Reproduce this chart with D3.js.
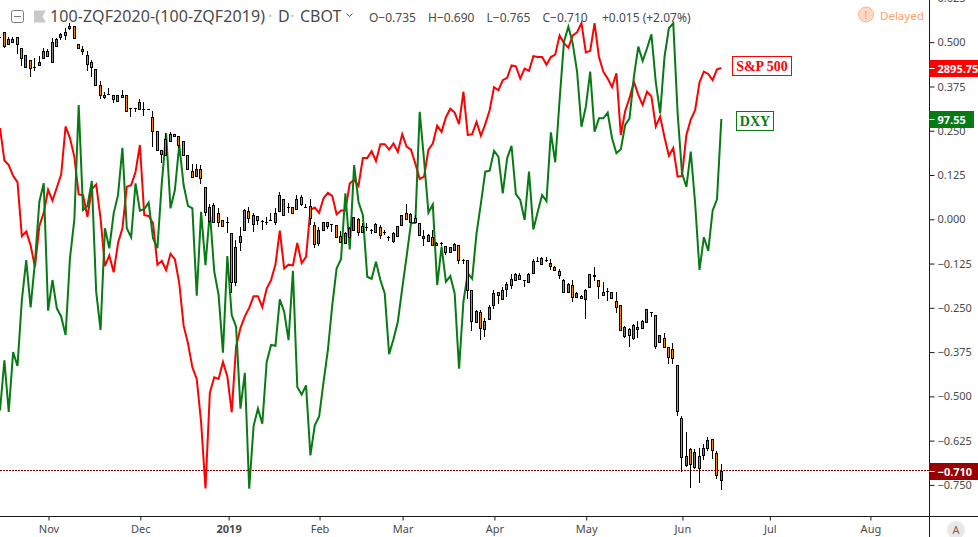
<!DOCTYPE html>
<html>
<head>
<meta charset="utf-8">
<title>100-ZQF2020-(100-ZQF2019)</title>
<script src="https://cdnjs.cloudflare.com/ajax/libs/d3/7.8.5/d3.min.js"></script>
<style>
  html, body { margin: 0; padding: 0; background: #fff; }
  svg { display: block; font-family: "Noto Sans", sans-serif; }
</style>
</head>
<body>
<div id="chart"></div>
<script>
// daily candles, index 0 is the bar at the left edge
var barOpen = [0.514,0.529,0.495,0.500,0.515,0.484,0.430,0.450,0.430,0.436,
  0.455,0.475,0.444,0.489,0.515,0.520,0.540,0.547,0.495,0.481,
  0.464,0.444,0.424,0.379,0.345,0.353,0.351,0.334,0.345,0.351,
  0.313,0.313,0.311,0.311,0.311,0.289,0.249,0.196,0.181,0.221,
  0.241,0.235,0.221,0.181,0.136,0.122,0.142,0.091,-0.006,0.040,
  0.018,-0.002,-0.009,-0.039,-0.177,-0.064,-0.030,0.023,-0.013,0.009,
  -0.005,-0.008,-0.002,-0.008,0.023,0.057,0.035,0.035,0.029,0.063,
  0.036,0.038,-0.016,-0.067,-0.030,-0.008,-0.014,-0.016,-0.047,-0.067,
  -0.050,-0.030,0.001,-0.036,-0.022,-0.029,-0.036,-0.022,-0.036,-0.050,
  -0.061,-0.047,-0.016,0.018,-0.008,0.004,-0.010,-0.053,-0.061,-0.050,
  -0.067,-0.068,-0.075,-0.092,-0.087,-0.073,-0.115,-0.115,-0.200,-0.290,
  -0.262,-0.310,-0.281,-0.242,-0.205,-0.225,-0.197,-0.185,-0.171,-0.157,
  -0.171,-0.177,-0.152,-0.119,-0.126,-0.115,-0.123,-0.135,-0.146,-0.171,
  -0.205,-0.185,-0.219,-0.222,-0.225,-0.191,-0.160,-0.171,-0.205,-0.202,
  -0.205,-0.231,-0.242,-0.329,-0.310,-0.335,-0.310,-0.307,-0.290,-0.263,
  -0.270,-0.346,-0.335,-0.361,-0.366,-0.411,-0.561,-0.694,-0.648,-0.699,
  -0.668,-0.665,-0.646,-0.620,-0.660,-0.735];
var barHigh = [0.514,0.529,0.515,0.515,0.515,0.484,0.464,0.450,0.455,0.461,
  0.484,0.481,0.512,0.512,0.526,0.540,0.554,0.547,0.495,0.489,
  0.475,0.451,0.424,0.391,0.359,0.371,0.351,0.352,0.366,0.351,
  0.313,0.313,0.341,0.331,0.311,0.307,0.249,0.196,0.244,0.246,
  0.241,0.235,0.221,0.181,0.157,0.157,0.153,0.091,0.043,0.046,
  0.033,-0.002,0.006,-0.039,-0.058,-0.022,0.029,0.035,0.018,0.009,
  -0.002,0.006,0.018,0.032,0.077,0.057,0.046,0.035,0.069,0.069,
  0.043,0.057,-0.007,-0.022,-0.008,-0.008,-0.014,-0.016,-0.032,-0.036,
  -0.023,0.006,0.004,-0.010,-0.010,-0.027,-0.010,-0.016,-0.030,-0.047,
  -0.036,-0.019,0.012,0.043,0.018,0.012,-0.010,-0.030,-0.041,-0.030,
  -0.064,-0.064,-0.075,-0.078,-0.067,-0.073,-0.112,-0.115,-0.200,-0.256,
  -0.256,-0.279,-0.242,-0.200,-0.205,-0.191,-0.177,-0.154,-0.152,-0.152,
  -0.171,-0.152,-0.112,-0.106,-0.106,-0.106,-0.112,-0.132,-0.140,-0.169,
  -0.180,-0.171,-0.205,-0.214,-0.197,-0.154,-0.135,-0.171,-0.177,-0.194,
  -0.205,-0.205,-0.242,-0.301,-0.307,-0.296,-0.288,-0.284,-0.253,-0.263,
  -0.270,-0.327,-0.321,-0.361,-0.349,-0.411,-0.555,-0.600,-0.646,-0.648,
  -0.646,-0.634,-0.615,-0.620,-0.654,-0.690];
var barLow = [0.514,0.485,0.491,0.498,0.466,0.432,0.428,0.401,0.419,0.435,
  0.452,0.458,0.444,0.488,0.505,0.505,0.535,0.511,0.484,0.464,
  0.419,0.401,0.375,0.340,0.341,0.350,0.327,0.333,0.342,0.305,
  0.288,0.302,0.309,0.291,0.311,0.204,0.196,0.158,0.180,0.220,
  0.235,0.201,0.181,0.142,0.119,0.119,0.101,0.008,-0.010,-0.010,
  -0.023,-0.023,-0.039,-0.208,-0.189,-0.089,-0.030,-0.010,-0.036,-0.017,
  -0.029,-0.017,-0.004,-0.017,0.021,0.009,0.018,0.015,0.027,0.038,
  0.033,-0.016,-0.081,-0.075,-0.030,-0.027,-0.036,-0.050,-0.066,-0.067,
  -0.051,-0.030,-0.047,-0.039,-0.033,-0.041,-0.037,-0.056,-0.044,-0.061,
  -0.067,-0.050,-0.016,-0.002,-0.010,-0.010,-0.047,-0.075,-0.063,-0.075,
  -0.075,-0.075,-0.101,-0.092,-0.088,-0.127,-0.127,-0.225,-0.316,-0.292,
  -0.342,-0.331,-0.283,-0.253,-0.238,-0.227,-0.220,-0.197,-0.174,-0.171,
  -0.191,-0.178,-0.152,-0.122,-0.128,-0.121,-0.143,-0.143,-0.169,-0.205,
  -0.206,-0.233,-0.220,-0.224,-0.281,-0.191,-0.174,-0.225,-0.215,-0.232,
  -0.222,-0.265,-0.313,-0.335,-0.361,-0.341,-0.335,-0.310,-0.290,-0.276,
  -0.367,-0.346,-0.361,-0.410,-0.408,-0.556,-0.713,-0.699,-0.760,-0.705,
  -0.746,-0.679,-0.654,-0.676,-0.733,-0.765];
var barClose = [0.514,0.488,0.509,0.509,0.495,0.455,0.464,0.428,0.430,0.444,
  0.475,0.460,0.500,0.509,0.523,0.530,0.547,0.512,0.484,0.475,
  0.438,0.430,0.378,0.350,0.351,0.353,0.340,0.350,0.351,0.306,
  0.313,0.313,0.331,0.311,0.311,0.249,0.196,0.184,0.227,0.241,
  0.235,0.210,0.181,0.142,0.119,0.142,0.116,0.021,0.035,-0.009,
  -0.008,-0.020,-0.009,-0.177,-0.078,-0.047,0.026,0.004,0.012,-0.002,
  -0.005,-0.008,-0.002,0.018,0.069,0.012,0.035,0.018,0.057,0.043,
  0.036,0.004,-0.070,-0.030,-0.008,-0.019,-0.014,-0.050,-0.064,-0.039,
  -0.025,0.006,-0.036,-0.019,-0.022,-0.029,-0.013,-0.044,-0.036,-0.050,
  -0.039,-0.019,0.012,0.001,0.015,-0.008,-0.044,-0.047,-0.044,-0.073,
  -0.073,-0.068,-0.092,-0.078,-0.070,-0.115,-0.115,-0.200,-0.287,-0.259,
  -0.307,-0.287,-0.248,-0.208,-0.214,-0.200,-0.183,-0.169,-0.154,-0.169,
  -0.171,-0.154,-0.118,-0.119,-0.109,-0.115,-0.133,-0.143,-0.157,-0.204,
  -0.183,-0.219,-0.208,-0.217,-0.200,-0.154,-0.158,-0.188,-0.214,-0.202,
  -0.222,-0.248,-0.313,-0.304,-0.327,-0.298,-0.304,-0.287,-0.253,-0.263,
  -0.358,-0.327,-0.361,-0.390,-0.393,-0.541,-0.671,-0.668,-0.691,-0.657,
  -0.702,-0.646,-0.623,-0.651,-0.722,-0.710];

// overlays, each on its own hidden price scale
var spx = [2818,2776,2770,2756,2748,2678,2684,2666,2638,2691,
  2708,2738,2724,2741,2758,2820,2805,2781,2732,2731,
  2703,2739,2745,2701,2639,2653,2631,2669,2688,2742,
  2744,2761,2796,2705,2704,2695,2641,2646,2634,2655,
  2648,2617,2562,2539,2508,2493,2437,2351,2475,2495,
  2493,2515,2496,2450,2535,2559,2574,2585,2600,2600,
  2586,2610,2621,2641,2685,2636,2641,2640,2669,2643,
  2651,2712,2715,2708,2727,2734,2730,2706,2711,2711,
  2746,2751,2743,2779,2779,2788,2775,2797,2797,2790,
  2798,2787,2810,2794,2790,2772,2752,2755,2790,2798,
  2821,2813,2832,2843,2838,2823,2865,2809,2810,2826,
  2808,2823,2841,2871,2867,2880,2883,2899,2898,2882,
  2895,2892,2911,2910,2910,2900,2910,2913,2938,2928,
  2922,2938,2942,2954,2916,2918,2954,2910,2891,2882,
  2871,2889,2809,2840,2857,2878,2861,2848,2865,2859,
  2820,2833,2806,2782,2792,2755,2756,2809,2829,2841,
  2877,2891,2888,2880,2894,2895.75];
var dxy = [95.697,96.015,95.687,96.068,95.979,96.399,96.653,96.352,96.641,97.024,
  97.141,96.331,96.526,96.346,96.293,96.176,96.664,96.908,97.639,96.971,
  96.997,97.156,96.452,96.208,96.855,96.728,96.950,97.067,97.367,96.855,
  96.798,97.141,96.967,96.976,97.018,96.791,96.728,97.141,97.459,96.982,
  97.098,97.385,97.130,96.997,96.982,96.426,96.960,96.621,96.960,96.583,
  96.431,96.064,96.679,96.303,96.229,95.708,95.936,95.199,95.597,95.708,
  95.612,96.005,96.113,96.108,96.403,96.324,96.144,96.585,95.846,95.797,
  95.856,95.411,95.602,95.659,95.877,96.081,96.367,96.600,96.658,97.077,
  96.721,97.257,97.024,96.939,96.547,96.534,96.642,96.526,96.441,96.055,
  96.149,96.261,96.473,96.674,96.887,96.890,97.596,97.289,96.954,97.007,
  96.494,96.738,96.515,96.551,96.441,95.962,96.388,96.569,96.534,96.823,
  97.014,97.215,97.221,97.348,97.310,97.077,97.300,97.380,97.073,97.035,
  96.908,97.215,96.848,96.960,97.067,97.028,97.465,97.275,97.671,98.042,
  98.137,98.031,97.851,97.501,97.628,97.851,97.469,97.554,97.554,97.590,
  97.427,97.332,97.357,97.512,97.554,97.819,98.010,97.919,98.000,98.089,
  97.785,97.586,97.946,98.127,98.159,97.586,97.205,97.119,97.342,97.014,
  96.590,96.798,96.712,96.967,97.039,97.55];

var priceTicks = [0.625,0.5,0.375,0.25,0.125,0,-0.125,-0.25,-0.375,-0.5,-0.625,-0.75];
var monthLabels = ['Nov','Dec','2019','Feb','Mar','Apr','May','Jun','Jul','Aug'];
var monthBars = [11,32,52.2,73,92,113,134,156,176,199];

var ohlcLabels = ['O\u22120.735','H\u22120.690','L\u22120.765','C\u22120.710','+0.015 (+2.07%)'];
var lastClose = -0.710;

var width = 978, height = 537;
var plotRight = 929.5, plotBottom = 516.5;

var svg = d3.select('#chart').append('svg')
  .attr('width', width)
  .attr('height', height);

var x = d3.scaleLinear().domain([0, 199]).range([0.4, 870.4]);
var y = d3.scaleLinear().domain([-0.75, 0.5]).range([484.9, 42.2]);
var ySpx = d3.scaleLinear().domain([2351, 2895.75]).range([488.5, 68]);
var yDxy = d3.scaleLinear().domain([95.199, 97.55]).range([488.7, 119]);

var bars = d3.range(barOpen.length);

svg.append('clipPath').attr('id', 'plot')
  .append('rect').attr('width', plotRight).attr('height', plotBottom);
var plot = svg.append('g').attr('clip-path', 'url(#plot)');

// last price line
plot.append('line')
  .attr('x1', 0).attr('x2', plotRight)
  .attr('y1', Math.round(y(lastClose)) - 0.5).attr('y2', Math.round(y(lastClose)) - 0.5)
  .attr('stroke', '#8b0000')
  .attr('stroke-dasharray', '2,1');

function drawLine(values, scale, color) {
  var line = d3.line()
    .x(function(d, i) { return x(i) - 0.4; })
    .y(function(d) { return scale(d); });
  plot.append('path')
    .datum(values)
    .attr('d', line)
    .attr('fill', 'none')
    .attr('stroke', color)
    .attr('stroke-width', 2)
    .attr('stroke-linejoin', 'miter');
}
drawLine(spx, ySpx, '#ff0000');
drawLine(dxy, yDxy, '#087a14');

// candles on top of the overlays
function barX(i) { return Math.floor(x(i) - 0.7) + 0.5; }

var candle = plot.append('g').selectAll('g')
  .data(bars)
  .enter()
  .append('g');

candle.append('line')
  .attr('x1', barX).attr('x2', barX)
  .attr('y1', function(i) { return Math.round(y(barHigh[i])); })
  .attr('y2', function(i) { return Math.round(y(barLow[i])); })
  .attr('stroke', '#000');

candle.append('rect')
  .attr('shape-rendering', 'crispEdges')
  .each(function(i) {
    var top = Math.round(y(Math.max(barOpen[i], barClose[i])));
    var bottom = Math.round(y(Math.min(barOpen[i], barClose[i])));
    var c = barX(i);
    if (bottom - top < 1) {
      // no body, just a dash
      d3.select(this)
        .attr('x', c - 1.5).attr('y', top).attr('width', 3).attr('height', 1)
        .attr('fill', '#000');
    } else {
      d3.select(this)
        .attr('x', c - 1).attr('y', top + 0.5).attr('width', 2).attr('height', bottom - top)
        .attr('fill', barClose[i] >= barOpen[i] ? '#808080' : '#ff7f00')
        .attr('stroke', '#000');
    }
  });

// axes
var yAxis = d3.axisRight(y)
  .tickValues(priceTicks)
  .tickSize(5)
  .tickPadding(3)
  .tickFormat(d3.format('.3f'));
var yG = svg.append('g')
  .attr('transform', 'translate(' + plotRight + ',0)')
  .call(yAxis);
yG.select('.domain').attr('d', 'M0,0V' + height).attr('stroke', '#1a1a1a');
yG.selectAll('.tick line').attr('stroke', '#1a1a1a');
yG.selectAll('.tick text')
  .attr('font-size', 11)
  .attr('font-family', '"Noto Sans", sans-serif')
  .attr('fill', '#4a4a4a');

var xAxis = d3.axisBottom(x)
  .tickValues(monthBars)
  .tickSize(4)
  .tickPadding(5)
  .tickFormat(function(d, i) { return monthLabels[i]; });
var xG = svg.append('g')
  .attr('transform', 'translate(0,' + plotBottom + ')')
  .call(xAxis);
xG.select('.domain').attr('d', 'M0,0H' + width).attr('stroke', '#1a1a1a');
xG.selectAll('.tick line').attr('stroke', '#1a1a1a');
xG.selectAll('.tick text')
  .attr('font-size', 11)
  .attr('font-family', '"Noto Sans", sans-serif')
  .attr('fill', '#4a4a4a')
  .attr('font-weight', function(d, i) { return monthLabels[i] === '2019' ? 700 : 400; });

// header
var header = svg.append('g');
header.append('rect')
  .attr('x', 11.5).attr('y', 10.5).attr('width', 12).attr('height', 12).attr('rx', 2)
  .attr('fill', '#fff').attr('stroke', '#7a7a7a');
header.append('line')
  .attr('x1', 14).attr('x2', 21).attr('y1', 16.5).attr('y2', 16.5)
  .attr('stroke', '#7a7a7a');
header.append('path')
  .attr('d', 'M34,10.5H46L42.5,16.5L46,22.5H34Z')
  .attr('fill', '#c9c9c9');

header.append('text').attr('x', 50).attr('y', 21.5)
  .attr('font-size', 16).attr('fill', '#4a4a4a').attr('textLength', 215)
  .text('100-ZQF2020-(100-ZQF2019)');
header.append('text').attr('x', 268).attr('y', 21.5)
  .attr('font-size', 16).attr('fill', '#c0c0c0').text('\u00b7');
header.append('text').attr('x', 278).attr('y', 21.5)
  .attr('font-size', 16).attr('fill', '#4a4a4a').text('D');
header.append('text').attr('x', 290).attr('y', 21.5)
  .attr('font-size', 16).attr('fill', '#c0c0c0').text('\u00b7');
header.append('text').attr('x', 300).attr('y', 21.5)
  .attr('font-size', 16).attr('fill', '#4a4a4a').text('CBOT');
header.append('path')
  .attr('d', 'M346.5,13.5L349.5,16.5L352.5,13.5')
  .attr('fill', 'none').attr('stroke', '#4a4a4a');

var ohlcX = [369, 428, 486.5, 542.5, 602];
header.selectAll('.ohlc')
  .data(ohlcLabels)
  .enter()
  .append('text')
  .attr('class', 'ohlc')
  .attr('x', function(d, i) { return ohlcX[i]; })
  .attr('y', 22)
  .attr('font-size', 12)
  .attr('fill', '#4a4a4a')
  .text(function(d) { return d; });

// delayed badge
header.append('circle')
  .attr('cx', 866).attr('cy', 14.5).attr('r', 7.5)
  .attr('fill', '#ffd9c4').attr('stroke', '#ffb48c').attr('stroke-width', 1);
header.append('text').attr('x', 866).attr('y', 19)
  .attr('text-anchor', 'middle').attr('font-size', 11).attr('fill', '#ff9a5c')
  .text('!');
header.append('text').attr('x', 880).attr('y', 19.5)
  .attr('font-size', 11.5).attr('fill', '#ff9f66')
  .text('Delayed');

// series name boxes
function nameBox(label, bx, by, bw, color) {
  svg.append('rect')
    .attr('x', bx).attr('y', by).attr('width', bw).attr('height', 19)
    .attr('fill', '#fff').attr('stroke', color);
  svg.append('text')
    .attr('x', bx + bw / 2).attr('y', by + 14.5)
    .attr('text-anchor', 'middle')
    .attr('font-family', '"Liberation Serif", serif')
    .attr('font-weight', 700)
    .attr('font-size', 14)
    .attr('fill', color)
    .text(label);
}
nameBox('S&P 500', 732.5, 56.5, 59, '#ff0000');
nameBox('DXY', 736.5, 111.5, 37, '#087a14');

// price tags on the axis
function priceTag(label, cy, tw, color) {
  var top = Math.round(cy) - 8;
  svg.append('rect')
    .attr('x', plotRight).attr('y', top).attr('width', tw).attr('height', 17)
    .attr('fill', color);
  svg.append('line')
    .attr('x1', plotRight).attr('x2', plotRight + 5)
    .attr('y1', top + 8.5).attr('y2', top + 8.5)
    .attr('stroke', '#fff');
  svg.append('text')
    .attr('x', plotRight + 8).attr('y', top + 12.5)
    .attr('font-size', 11).attr('font-weight', 700).attr('fill', '#fff')
    .text(label);
}
priceTag('2895.75', ySpx(spx[spx.length - 1]), 48.5, '#ff0000');
priceTag('97.55', yDxy(dxy[dxy.length - 1]), 44.5, '#087a14');
priceTag(d3.format('.3f')(lastClose), y(lastClose), 48.5, '#990000');

// auto scale button
svg.append('circle')
  .attr('cx', 956).attr('cy', 530).attr('r', 9)
  .attr('fill', '#e8e8e8');
svg.append('text')
  .attr('x', 956).attr('y', 534)
  .attr('text-anchor', 'middle').attr('font-size', 11).attr('fill', '#a0553a')
  .text('A');
</script>
</body>
</html>
